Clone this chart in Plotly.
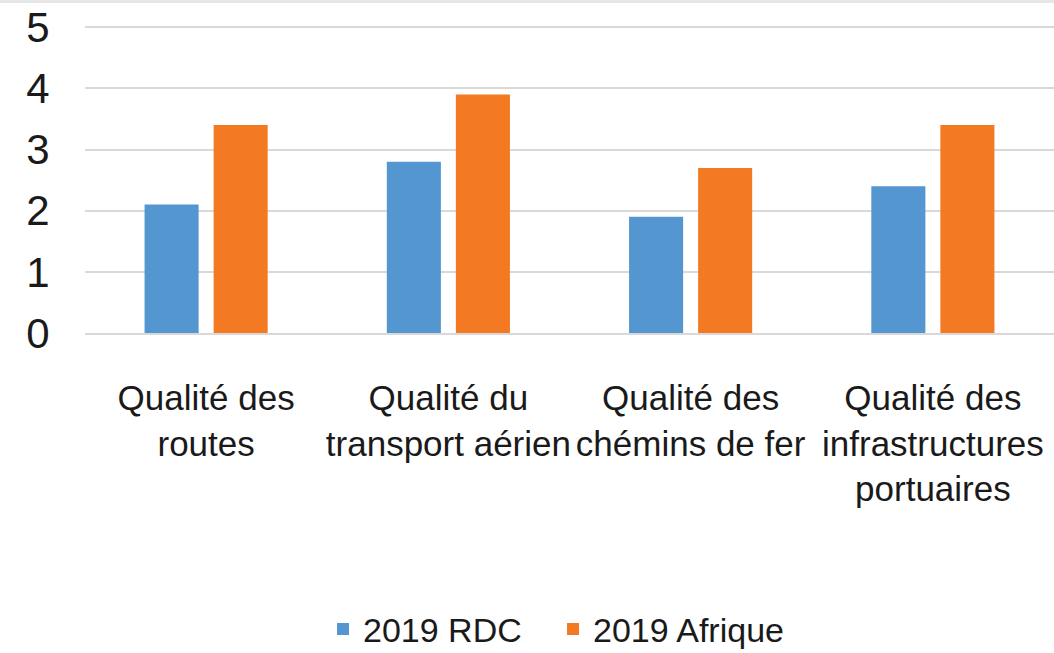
import plotly.graph_objects as go

categories = [
    "Qualité des<br>routes",
    "Qualité du<br>transport aérien",
    "Qualité des<br>chémins de fer",
    "Qualité des<br>infrastructures<br>portuaires",
]
series_names = ["2019 RDC", "2019 Afrique"]
rdc_values = [2.1, 2.8, 1.9, 2.4]
afrique_values = [3.4, 3.9, 2.7, 3.4]
y_ticks = [0, 1, 2, 3, 4, 5]

FONT = "Liberation Sans, Arial, sans-serif"

fig = go.Figure()
fig.add_trace(go.Bar(x=categories, y=rdc_values, name=series_names[0],
                     marker=dict(color="#5396D0", line=dict(width=0))))
fig.add_trace(go.Bar(x=categories, y=afrique_values, name=series_names[1],
                     marker=dict(color="#F37A23", line=dict(width=0))))

fig.update_layout(
    width=1054, height=653,
    margin=dict(l=85, r=0, t=26, b=320, autoexpand=False),
    paper_bgcolor="white", plot_bgcolor="white",
    font=dict(family=FONT, size=35, color="#1a1a1a"),
    barmode="group", bargap=0.43, bargroupgap=0.217,
    showlegend=True,
    legend=dict(orientation="h", x=0.483, xanchor="center", y=-1.06, yanchor="bottom",
                font=dict(size=34), bgcolor="rgba(0,0,0,0)", itemwidth=30,
                entrywidth=185, entrywidthmode="pixels",
                traceorder="normal"),
)
fig.update_xaxes(
    showgrid=False, showline=True, linecolor="#d9d9d9", linewidth=2,
    ticks="outside", ticklen=33, tickcolor="rgba(0,0,0,0)", tickangle=0,
    tickfont=dict(size=35), automargin=False,
)
fig.update_yaxes(
    range=[0, 5.02], tickvals=y_ticks, showgrid=True, gridcolor="#d9d9d9", gridwidth=2,
    zeroline=False, showline=False,
    ticks="outside", ticklen=26, tickcolor="rgba(0,0,0,0)",
    tickfont=dict(size=42), automargin=False, ticklabeloverflow="allow",
)
# thin grey strip along the top edge of the picture
fig.add_shape(type="rect", xref="paper", yref="paper", x0=-1, x1=2,
              y0=1 + 23/307, y1=1.2, fillcolor="#e6e6e6", line=dict(width=0), layer="below")

fig.write_html("out.html", config={"displayModeBar": False},
               post_script="document.body.style.margin='0px';")
